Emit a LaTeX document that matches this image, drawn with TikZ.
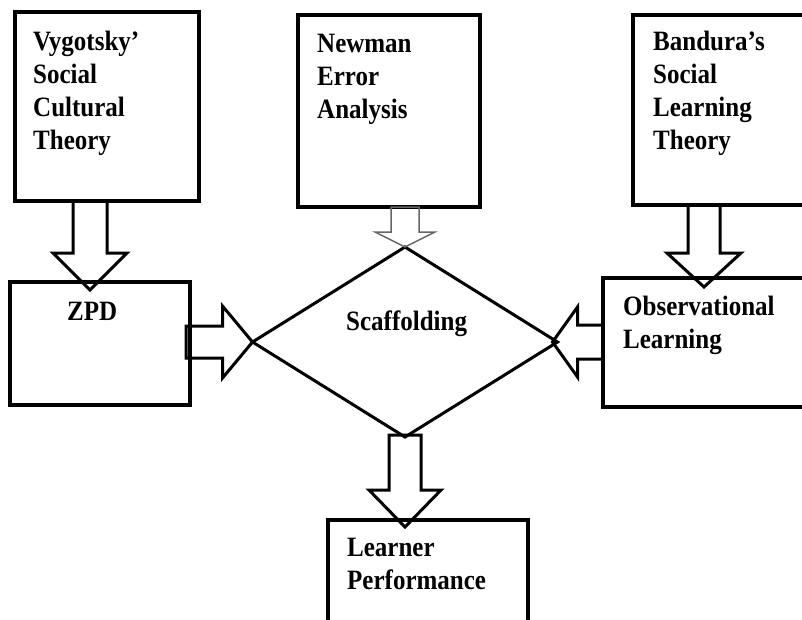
\documentclass[tikz,border=0pt]{standalone}
\usepackage{fontspec}
\setmainfont{Liberation Serif}
\usetikzlibrary{calc,shapes.geometric}

\tikzset{
  box/.style={draw, rectangle, line width=3.5pt, anchor=north west, inner sep=0pt, outer sep=0pt},
  decision/.style={draw, diamond, line width=3pt, inner sep=0pt, outer sep=0pt},
  txt/.style={anchor=base west, inner sep=0pt, font=\fontsize{25}{29.5}\selectfont\bfseries},
  barrow/.style={draw, line width=3pt, line join=miter},
  thinbarrow/.style={draw=black!60, line width=1.5pt},
}

% Left-aligned label lines, slightly tall; baseline on the first line
\newcommand\lbl[1]{\scalebox{1}[1.12]{\begin{tabular}[t]{@{}l@{}}#1\end{tabular}}}

% Block arrow: [style] {start} {tip} {shaft half-width} {head half-width} {head length}
\newcommand\blockarrow[6][]{%
  \path ($(#3)!#6!(#2)$) coordinate (hb);
  \draw[barrow,#1]
    ($(#2)!#4!90:(#3)$) -- ($(hb)!#4!90:(#3)$) -- ($(hb)!#5!90:(#3)$) -- (#3)
    -- ($(hb)!#5!-90:(#3)$) -- ($(hb)!#4!-90:(#3)$) -- ($(#2)!#4!-90:(#3)$) -- cycle;
}

\begin{document}
\begin{tikzpicture}[x=1pt, y=-1pt]
  \useasboundingbox (0,0) rectangle (802,619);
  \clip (0,0) rectangle (802,619);

  % theory boxes
  \node[box, minimum width=184pt, minimum height=189pt] (vyg) at (15,12) {};
  \node[box, minimum width=182pt, minimum height=192pt] (new) at (298,15) {};
  \node[box, minimum width=180pt, minimum height=190pt] (ban) at (633,15) {};

  % concept boxes
  \node[box, minimum width=180pt, minimum height=123pt] (zpd) at (10,282) {};
  \node[box, minimum width=210pt, minimum height=129pt] (obs) at (603,278) {};
  \node[box, minimum width=200pt, minimum height=120pt] (lrn) at (328,520) {};

  % central decision shape
  \node[decision, minimum width=305pt, minimum height=190pt] (sc) at (405,342) {};

  % labels
  \node[txt] (tvyg) at (33,50)   {\lbl{Vygotsky'\\Social\\Cultural\\Theory}};
  \node[txt] (tnew) at (317,52)  {\lbl{Newman\\Error\\Analysis}};
  \node[txt] (tban) at (653,50)  {\lbl{Bandura's\\Social\\Learning\\Theory}};
  \node[txt] (tzpd) at (67,320)  {\lbl{ZPD}};
  \node[txt] (tsc)  at (346,330) {\lbl{Scaffolding}};
  \node[txt] (tobs) at (623,315) {\lbl{Observational\\Learning}};
  \node[txt] (tlrn) at (347,556) {\lbl{Learner\\Performance}};

  % arrow end points
  \coordinate (a1s) at (90,0 |- vyg.south);
  \coordinate (a1t) at (90,290);
  \coordinate (a2s) at (sc.north |- new.south);
  \coordinate (a3s) at (704,0 |- ban.south);
  \coordinate (a3t) at (704,287);
  \coordinate (a4s) at (186,0 |- sc.west);
  \coordinate (a5s) at (obs.west |- sc.east);
  \coordinate (a5t) at ($(sc.east)+(-5,0)$);
  \coordinate (a6s) at ($(sc.south)+(0,-2)$);
  \coordinate (a6t) at (sc.south |- 0,527);

  % block arrows
  \blockarrow{a1s}{a1t}{17pt}{37pt}{37pt}
  \blockarrow[thinbarrow]{a2s}{sc.north}{14pt}{30pt}{15pt}
  \blockarrow{a3s}{a3t}{16pt}{37pt}{34pt}
  \blockarrow{a4s}{sc.west}{16pt}{36pt}{30pt}
  \blockarrow{a5s}{a5t}{17pt}{35pt}{25pt}
  \blockarrow{a6s}{a6t}{16pt}{36pt}{37pt}
\end{tikzpicture}
\end{document}
